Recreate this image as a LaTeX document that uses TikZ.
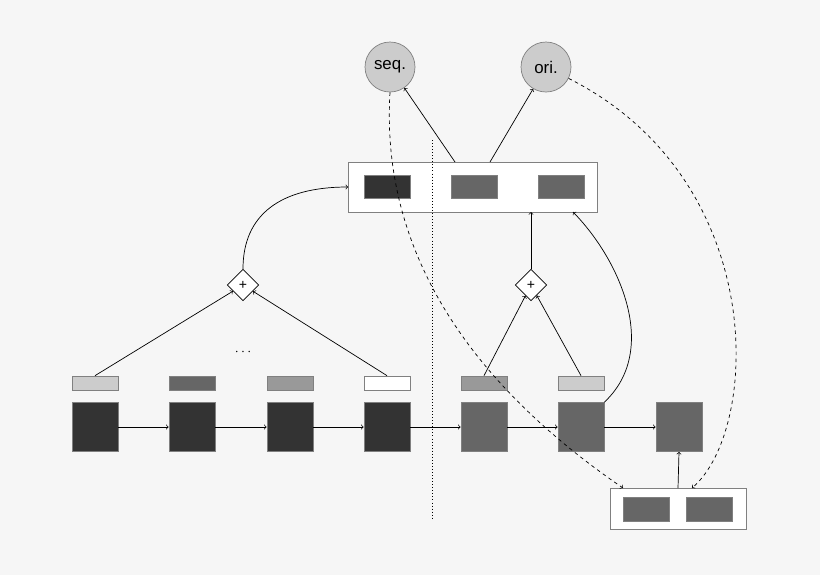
\documentclass[tikz,border=0pt]{standalone}
\usepackage{fontspec}
\setmainfont{Liberation Sans}
\usetikzlibrary{arrows,shapes.geometric,positioning}
\definecolor{bg}{HTML}{F6F6F6}
\definecolor{dk}{HTML}{333333}
\definecolor{md}{HTML}{666666}
\definecolor{lt}{HTML}{999999}
\definecolor{pl}{HTML}{CCCCCC}
\begin{document}
\begin{tikzpicture}[x=0.03cm,y=-0.03cm,>=to,semithick]
        \tikzstyle{cell}=[draw=gray,minimum width=1.38cm,minimum height=1.47cm,inner sep=0pt]
        \tikzstyle{tag}=[draw=gray,minimum width=1.38cm,minimum height=0.42cm,inner sep=0pt]
        \tikzstyle{vec}=[draw=gray,minimum width=1.38cm,minimum height=0.69cm,inner sep=0pt]
        \tikzstyle{box}=[draw=gray,fill=white,inner sep=0pt]
        \tikzstyle{sum}=[draw,diamond,fill=white,minimum size=0.95cm,inner sep=0pt,font=\large]
        \tikzstyle{head}=[draw=gray,circle,fill=pl,minimum size=1.5cm,inner sep=0pt,font=\Large]

        \fill[bg] (0,0) rectangle (820,575);
        \useasboundingbox (0,0) rectangle (820,575);

        % bottom row
        \foreach \i/\x/\c in {1/95/dk,2/192/dk,3/290/dk,4/387/dk,5/484/md,6/581/md,7/679/md}
            \node[cell,fill=\c] (c\i) at (\x,427) {};
        \foreach \i/\x/\c in {1/95/pl,2/192/md,3/290/lt,4/387/white,5/484/lt,6/581/pl}
            \node[tag,fill=\c] (t\i) at (\x,383) {};
        \foreach \i [evaluate=\i as \j using int(\i+1)] in {1,...,6}
            \draw[->] (c\i) -- (c\j);
        \node (dots) at (243,352) {\large$\cdots$};

        % top box
        \node[box,minimum width=7.47cm,minimum height=1.5cm] (top) at (473,187) {};
        \node[vec,fill=dk] (v1) at (387,187) {};
        \node[vec,fill=md] (v2) at (474,187) {};
        \node[vec,fill=md] (v3) at (561,187) {};
        \node[head] (seq) at (390,67) {seq.};
        \node[head] (ori) at (546,67) {ori.};

        % bottom box
        \node[box,minimum width=4.08cm,minimum height=1.23cm] (bot) at (678,509) {};
        \node[vec,fill=md,minimum height=0.72cm] (b1) at (646,509) {};
        \node[vec,fill=md,minimum height=0.72cm] (b2) at (709,509) {};

        \node[sum] (s1) at (243,285) {+};
        \node[sum] (s2) at (531,285) {+};

        \draw[dotted] (432,140) -- (432,518);

        \draw[->] (t1.north) -- (s1);
        \draw[->] (t4.north) -- (s1);
        \draw[->] (s1.north) .. controls (243,215) and (280,187) .. (top.west);
        \draw[->] (t5.north) -- (s2);
        \draw[->] (t6.north) -- (s2);
        \draw[->] (s2.north) -- (531,212);
        \draw[->] (c6.north east) .. controls (660,350) and (620,260) .. (573,212);
        \draw[->] (455,162) -- (seq);
        \draw[->] (490,162) -- (ori);
        \draw[->] (bot.north) -- (c7.south);
        \draw[->,dashed] (seq.south) .. controls (380,260) and (480,390) .. (623,488);
        \draw[->,dashed] (ori) .. controls (770,180) and (760,430) .. (692,488);
\end{tikzpicture}
\end{document}
